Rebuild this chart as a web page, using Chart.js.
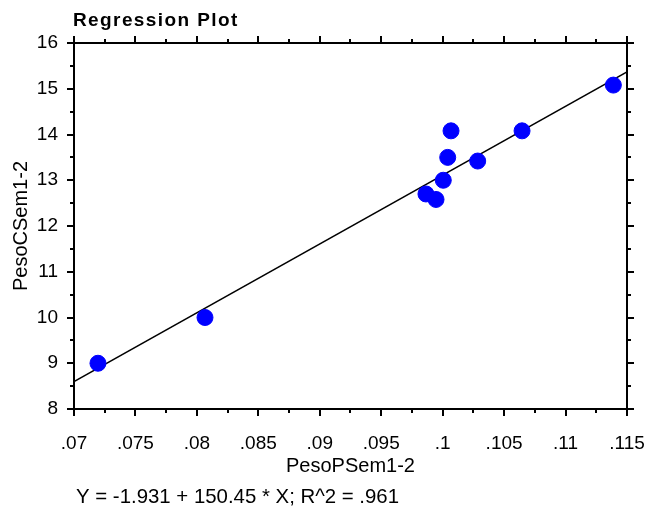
<!DOCTYPE html>
<html>
<head>
<meta charset="utf-8">
<script src="https://cdn.jsdelivr.net/npm/chart.js@4"></script>
<style>
  html, body { margin: 0; padding: 0; background: #fff; }
  #wrap { width: 648px; height: 512px; position: relative; }
</style>
</head>
<body>
<div id="wrap"><canvas id="chart"></canvas></div>
<script>
// Datos
const pesoP = [0.07195, 0.08066, 0.09864, 0.09946, 0.10005, 0.10041, 0.10068, 0.10285, 0.10646, 0.11389];
const pesoC = [9.0, 10.0, 12.70, 12.58, 13.0, 13.5, 14.08, 13.42, 14.08, 15.08];

// Recta de regresión (Y = -1.931 + 150.45 * X)
const regIntercept = -1.931;
const regSlope = 150.45;
const lineX = [0.07, 0.115];

const xTickValues = [0.07, 0.075, 0.08, 0.085, 0.09, 0.095, 0.1, 0.105, 0.11, 0.115];
const xTickLabels = ['.07', '.075', '.08', '.085', '.09', '.095', '.1', '.105', '.11', '.115'];
const yTickValues = [8, 9, 10, 11, 12, 13, 14, 15, 16];
const yTickLabels = ['8', '9', '10', '11', '12', '13', '14', '15', '16'];

const FONT = '"Liberation Sans", Arial, sans-serif';

// Marco y marcas de eje (mayores y menores) en los cuatro lados
const framePlugin = {
    id: 'frame',
    afterDraw(chart) {
        const ctx = chart.ctx;
        const a = chart.chartArea;
        const xs = chart.scales.x, ys = chart.scales.y;
        ctx.save();
        ctx.strokeStyle = '#000';
        ctx.lineWidth = 2;
        ctx.strokeRect(a.left, a.top, a.right - a.left, a.bottom - a.top);
        ctx.beginPath();
        for (let i = 0; i < xTickValues.length; i++) {
            const v = xTickValues[i];
            const p = Math.round(xs.getPixelForValue(v));
            ctx.moveTo(p, a.bottom); ctx.lineTo(p, a.bottom + 7);
            ctx.moveTo(p, a.top); ctx.lineTo(p, a.top - 7);
            if (i < xTickValues.length - 1) {
                const m = Math.round(xs.getPixelForValue(v + 0.0025));
                ctx.moveTo(m, a.bottom); ctx.lineTo(m, a.bottom + 4);
                ctx.moveTo(m, a.top); ctx.lineTo(m, a.top - 4);
            }
        }
        for (let i = 0; i < yTickValues.length; i++) {
            const v = yTickValues[i];
            const p = Math.round(ys.getPixelForValue(v));
            ctx.moveTo(a.left, p); ctx.lineTo(a.left - 7, p);
            ctx.moveTo(a.right, p); ctx.lineTo(a.right + 7, p);
            if (i < yTickValues.length - 1) {
                const m = Math.round(ys.getPixelForValue(v + 0.5));
                ctx.moveTo(a.left, m); ctx.lineTo(a.left - 4, m);
                ctx.moveTo(a.right, m); ctx.lineTo(a.right + 4, m);
            }
        }
        ctx.stroke();

        // Título y ecuación
        ctx.fillStyle = '#000';
        ctx.textBaseline = 'alphabetic';
        ctx.textAlign = 'left';
        ctx.font = 'bold 19px ' + FONT;
        ctx.letterSpacing = '1.4px';
        ctx.fillText('Regression Plot', 73, 26);
        ctx.letterSpacing = '0px';
        ctx.font = '20.4px ' + FONT;
        ctx.fillText('Y = -1.931 + 150.45 * X; R^2 = .961', 76, 503);
        ctx.restore();
    }
};

const ctx = document.getElementById('chart').getContext('2d');
new Chart(ctx, {
    type: 'scatter',
    data: {
        datasets: [
            {
                label: 'Regresión',
                type: 'line',
                data: lineX.map((x) => ({ x: x, y: regIntercept + regSlope * x })),
                borderColor: '#000',
                borderWidth: 1.5,
                pointRadius: 0,
                fill: false,
                order: 2,
            },
            {
                label: 'Datos',
                data: pesoP.map((x, i) => ({ x: x, y: pesoC[i] })),
                backgroundColor: '#0000ff',
                borderColor: '#0000ff',
                pointRadius: 8,
                pointHoverRadius: 8,
                order: 1,
            },
        ],
    },
    options: {
        responsive: true,
        maintainAspectRatio: false,
        animation: false,
        layout: { padding: { left: 0, right: 21, top: 43, bottom: 33 } },
        plugins: {
            legend: { display: false },
            tooltip: { enabled: false },
        },
        scales: {
            x: {
                type: 'linear',
                min: 0.07,
                max: 0.115,
                grid: { display: false, drawTicks: false },
                border: { display: false },
                afterBuildTicks: (scale) => { scale.ticks = xTickValues.map((v) => ({ value: v })); },
                afterFit: (scale) => {
                    scale.height = 70;
                    scale.paddingLeft = 0;
                    scale.paddingRight = 0;
                },
                ticks: {
                    color: '#000',
                    font: { family: FONT, size: 19 },
                    padding: 23,
                    maxRotation: 0,
                    autoSkip: false,
                    callback: (v, i) => xTickLabels[i],
                },
                title: {
                    display: true,
                    text: 'PesoPSem1-2',
                    color: '#000',
                    font: { family: FONT, size: 20 },
                    padding: { top: 0, bottom: 1 },
                },
            },
            y: {
                type: 'linear',
                min: 8,
                max: 16,
                grid: { display: false, drawTicks: false },
                border: { display: false },
                afterBuildTicks: (scale) => { scale.ticks = yTickValues.map((v) => ({ value: v })); },
                afterFit: (scale) => {
                    scale.width = 74;
                    scale.paddingTop = 0;
                    scale.paddingBottom = 0;
                },
                ticks: {
                    color: '#000',
                    font: { family: FONT, size: 19 },
                    padding: 16,
                    autoSkip: false,
                    callback: (v, i) => yTickLabels[i],
                },
                title: {
                    display: true,
                    text: 'PesoCSem1-2',
                    color: '#000',
                    font: { family: FONT, size: 20 },
                    padding: { top: 9, bottom: 0 },
                },
            },
        },
    },
    plugins: [framePlugin],
});
</script>
</body>
</html>
